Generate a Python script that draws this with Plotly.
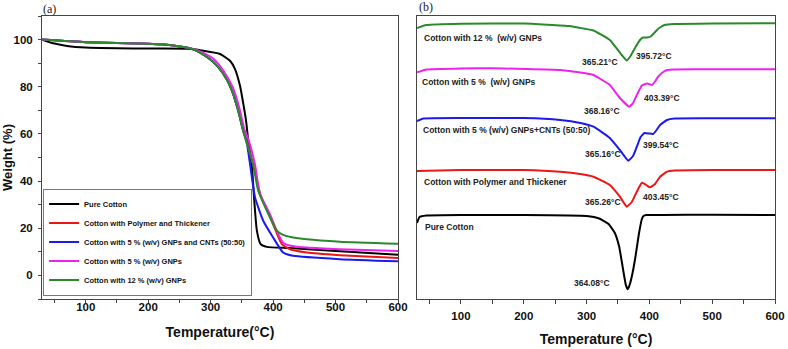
import plotly.graph_objects as go

# ---------------- Panel (a): TGA, weight (%) vs temperature ----------------
series_names = [
    "Pure Cotton",
    "Cotton with Polymer and Thickener",
    "Cotton with 5 % (w/v) GNPs and CNTs (50:50)",
    "Cotton with 5 % (w/v) GNPs",
    "Cotton with 12 % (w/v) GNPs",
]
series_colors = ["#000000", "#ee1515", "#1a1aee", "#ee22ee", "#2a8a2a"]

tga_pure_x = [30, 50, 70, 100, 150, 200, 267, 283, 315, 331, 339, 347, 352, 357, 360, 366, 369.5, 374, 380, 390, 427, 507, 600]
tga_pure_y = [100, 98.3, 97.3, 96.6, 96.3, 96.2, 96.1, 95.5, 93.9, 91, 87.5, 80.4, 73.2, 65, 57.5, 46.5, 33, 19, 13.3, 12.1, 11.6, 10.2, 8.8]

tga_poly_x = [30, 100, 200, 240, 272, 283, 304, 320, 334, 344, 352, 358, 369, 380, 390, 400, 414, 427, 454, 507, 600]
tga_poly_y = [100, 98.9, 98.2, 97.5, 95.9, 94.5, 90.6, 85.6, 78.5, 70, 61.5, 57, 46, 34, 28, 21.7, 13.3, 11.1, 9.7, 8.6, 7.4]

tga_cnt_x = [30, 100, 200, 240, 272, 283, 304, 320, 334, 344, 352, 358, 363, 371, 384, 400, 416, 432, 507, 600]
tga_cnt_y = [100, 98.9, 98.2, 97.5, 95.9, 94.5, 90.6, 85.6, 78.5, 70, 61.5, 56, 47.4, 33.2, 23.3, 16.1, 9.7, 8.3, 6.9, 6.0]

tga_gnp5_x = [30, 100, 200, 240, 272, 285, 304, 320, 335, 346, 354, 360, 371, 379, 395, 405, 416, 430, 454, 507, 600]
tga_gnp5_y = [100, 98.9, 98.2, 97.5, 96, 94.8, 92, 87, 80, 71, 62, 58, 47, 34.5, 26, 19.5, 13.9, 12.5, 11.8, 11.1, 10.4]

tga_gnp12_x = [30, 100, 200, 240, 272, 283, 304, 320, 334, 344, 352, 358, 368, 376, 390, 406, 416, 430, 454, 507, 600]
tga_gnp12_y = [100, 98.9, 98.2, 97.5, 95.9, 94.5, 90.6, 85.6, 78.5, 70, 61.5, 56, 47, 36, 27.4, 19, 17.2, 16.2, 15.3, 14.3, 13.4]

# ---------------- Panel (b): DTG curves (arbitrary units, stacked) ----------------
dtg_pure_x = [30, 34, 45, 100, 200, 300, 320, 335, 345, 352, 358.5, 362.5, 365.5, 369, 373.5, 378, 383, 388, 391, 395, 420, 500, 600]
dtg_pure_y = [76, 82, 83.5, 84, 84, 83, 80.5, 75, 66, 52, 28, 14, 9.7, 15, 27, 43, 64, 80, 83.3, 84, 84, 84.3, 84]

dtg_poly_x = [30, 100, 200, 258, 290, 311, 337, 353, 364, 372, 380, 388, 395, 401, 409, 417, 428, 440, 500, 600]
dtg_poly_y = [128, 129, 129, 127.3, 125, 122.3, 114, 102.3, 92.3, 97, 107.3, 116.3, 114, 111.7, 115, 122.3, 127.3, 128.5, 129, 129]

dtg_cnt_x = [30, 40, 100, 200, 258, 290, 311, 337, 353, 366.5, 374, 380, 386, 392, 399, 406, 412, 417, 428, 440, 500, 600]
dtg_cnt_y = [178, 180.5, 181, 181, 179, 176, 172.3, 161, 149, 138.3, 143, 152.3, 162, 166, 165.5, 165, 169.5, 174, 179, 180.5, 180.7, 180.7]

dtg_gnp5_x = [30, 45, 100, 150, 258, 290, 311, 337, 353, 368, 374, 380, 388, 396, 404, 409, 414, 421, 428, 440, 500, 600]
dtg_gnp5_y = [226.7, 229.5, 230.5, 230.7, 229, 226.5, 224, 214, 201, 192.3, 196, 204, 213.5, 215.5, 214, 217.5, 222.3, 226.5, 229, 229.5, 229.7, 229.7]

dtg_gnp12_x = [30, 45, 100, 200, 273, 295, 311, 337, 356, 364, 370, 378, 385, 390, 396, 402, 407, 412, 418, 424, 440, 500, 600]
dtg_gnp12_y = [271, 274, 275.3, 275.5, 273, 270.5, 268.5, 259, 244, 238.5, 243, 252, 259, 261.5, 261.5, 262.5, 265.5, 269, 272, 274, 275, 275.5, 275.7]

dtg_labels = [
    "Pure Cotton",
    "Cotton with Polymer and Thickener",
    "Cotton with 5 % (w/v) GNPs+CNTs (50:50)",
    "Cotton with 5 %  (w/v) GNPs",
    "Cotton with 12 %  (w/v) GNPs",
]
peak_labels = ["364.08°C", "365.26°C", "403.45°C", "365.16°C", "399.54°C",
               "368.16°C", "403.39°C", "365.21°C", "395.72°C"]

x_ticks = [100, 200, 300, 400, 500, 600]
y_ticks = [0, 20, 40, 60, 80, 100]

tga = [(tga_pure_x, tga_pure_y), (tga_poly_x, tga_poly_y), (tga_cnt_x, tga_cnt_y),
       (tga_gnp5_x, tga_gnp5_y), (tga_gnp12_x, tga_gnp12_y)]
dtg = [(dtg_pure_x, dtg_pure_y), (dtg_poly_x, dtg_poly_y), (dtg_cnt_x, dtg_cnt_y),
       (dtg_gnp5_x, dtg_gnp5_y), (dtg_gnp12_x, dtg_gnp12_y)]

fig = go.Figure()
for (xs, ys), name, col in zip(tga, series_names, series_colors):
    fig.add_trace(go.Scatter(x=xs, y=ys, mode="lines", name=name,
                             line=dict(color=col, width=2, shape="spline", smoothing=0.5),
                             xaxis="x", yaxis="y"))
for (xs, ys), col in zip(dtg, series_colors):
    fig.add_trace(go.Scatter(x=xs, y=ys, mode="lines", showlegend=False,
                             line=dict(color=col, width=2, shape="spline", smoothing=0.35),
                             xaxis="x2", yaxis="y2"))

FONT = "Liberation Sans, Arial, sans-serif"
frame = dict(showline=True, linecolor="#444", linewidth=1, mirror=True, showgrid=False,
             zeroline=False, automargin=False, ticklabeloverflow="allow")

fig.update_layout(
    width=788, height=349,
    margin=dict(l=42, r=13, t=16, b=50),
    paper_bgcolor="white", plot_bgcolor="white",
    font=dict(family=FONT, color="#111"),
    showlegend=True,
    legend=dict(x=0.0015, y=0.012, xanchor="left", yanchor="bottom",
                bgcolor="white", bordercolor="#777", borderwidth=1,
                font=dict(family=FONT, size=7.5, color="#111", weight="bold"),
                tracegroupgap=0, itemwidth=30),
    xaxis=dict(domain=[0, 0.4857], range=[30, 600], tickvals=x_ticks,
               ticks="outside", ticklen=3, tickcolor="#444", ticklabelstandoff=-6,
               minor=dict(dtick=50, tick0=0, ticks="outside", ticklen=3, tickcolor="#444"),
               tickfont=dict(size=11.5, weight="bold"),
               title=dict(text="Temperature(°C)", font=dict(size=14, weight="bold"), standoff=15),
               anchor="y", **frame),
    yaxis=dict(domain=[0, 1], range=[-10, 110], tickvals=y_ticks,
               ticks="outside", ticklen=3, tickcolor="#444", ticklabelstandoff=3,
               minor=dict(dtick=10, tick0=0, ticks="outside", ticklen=3, tickcolor="#444"),
               tickfont=dict(size=11.5, weight="bold"),
               title=dict(text="Weight (%)", font=dict(size=13, weight="bold"), standoff=3),
               anchor="x", **frame),
    xaxis2=dict(domain=[0.5116, 1], range=[30, 600], tickvals=x_ticks,
                ticks="outside", ticklen=4, tickcolor="#444", ticklabelstandoff=2,
                minor=dict(dtick=50, tick0=0, ticks="outside", ticklen=4, tickcolor="#444"),
                tickfont=dict(size=11.5, weight="bold"),
                title=dict(text="Temperature (°C)", font=dict(size=14, weight="bold"), standoff=13),
                anchor="y2", **frame),
    yaxis2=dict(domain=[0, 1], range=[0, 283], showticklabels=False, ticks="",
                anchor="x2", **frame),
)

ann = []
# panel letters
ann.append(dict(xref="paper", yref="paper", x=-0.0014, y=1.025, xanchor="left", yanchor="middle",
                text="(a)", showarrow=False, font=dict(family="Liberation Serif, Times New Roman, serif", size=12, color="#222")))
ann.append(dict(xref="paper", yref="paper", x=0.5116, y=1.032, xanchor="left", yanchor="middle",
                text="(b)", showarrow=False, font=dict(family="Liberation Serif, Times New Roman, serif", size=12, color="#222")))

# curve labels in panel (b)
label_pos = [(39, 71.7), (38, 117.3), (36, 169), (35.5, 217.3), (37.5, 261)]
for txt, (lx, ly) in zip(dtg_labels, label_pos):
    ann.append(dict(xref="x2", yref="y2", x=lx, y=ly, xanchor="left", yanchor="middle",
                    text=txt, showarrow=False, font=dict(size=8.5, weight="bold", color="#222")))

# peak temperature labels
peak_pos = [(308.2, 15.7), (325.4, 96.7), (417.7, 101.7), (325.4, 144.7), (418.5, 154),
            (324.1, 188), (420.1, 200.7), (320.6, 236.7), (407.9, 243.3)]
for txt, (px, py) in zip(peak_labels, peak_pos):
    ann.append(dict(xref="x2", yref="y2", x=px, y=py, xanchor="center", yanchor="middle",
                    text=txt, showarrow=False, font=dict(size=8.5, weight="bold", color="#222")))

fig.update_layout(annotations=ann)
fig.write_html("out.html",
               config={"displayModeBar": False},
               post_script="document.body.style.margin='0';document.body.style.padding='0';")
